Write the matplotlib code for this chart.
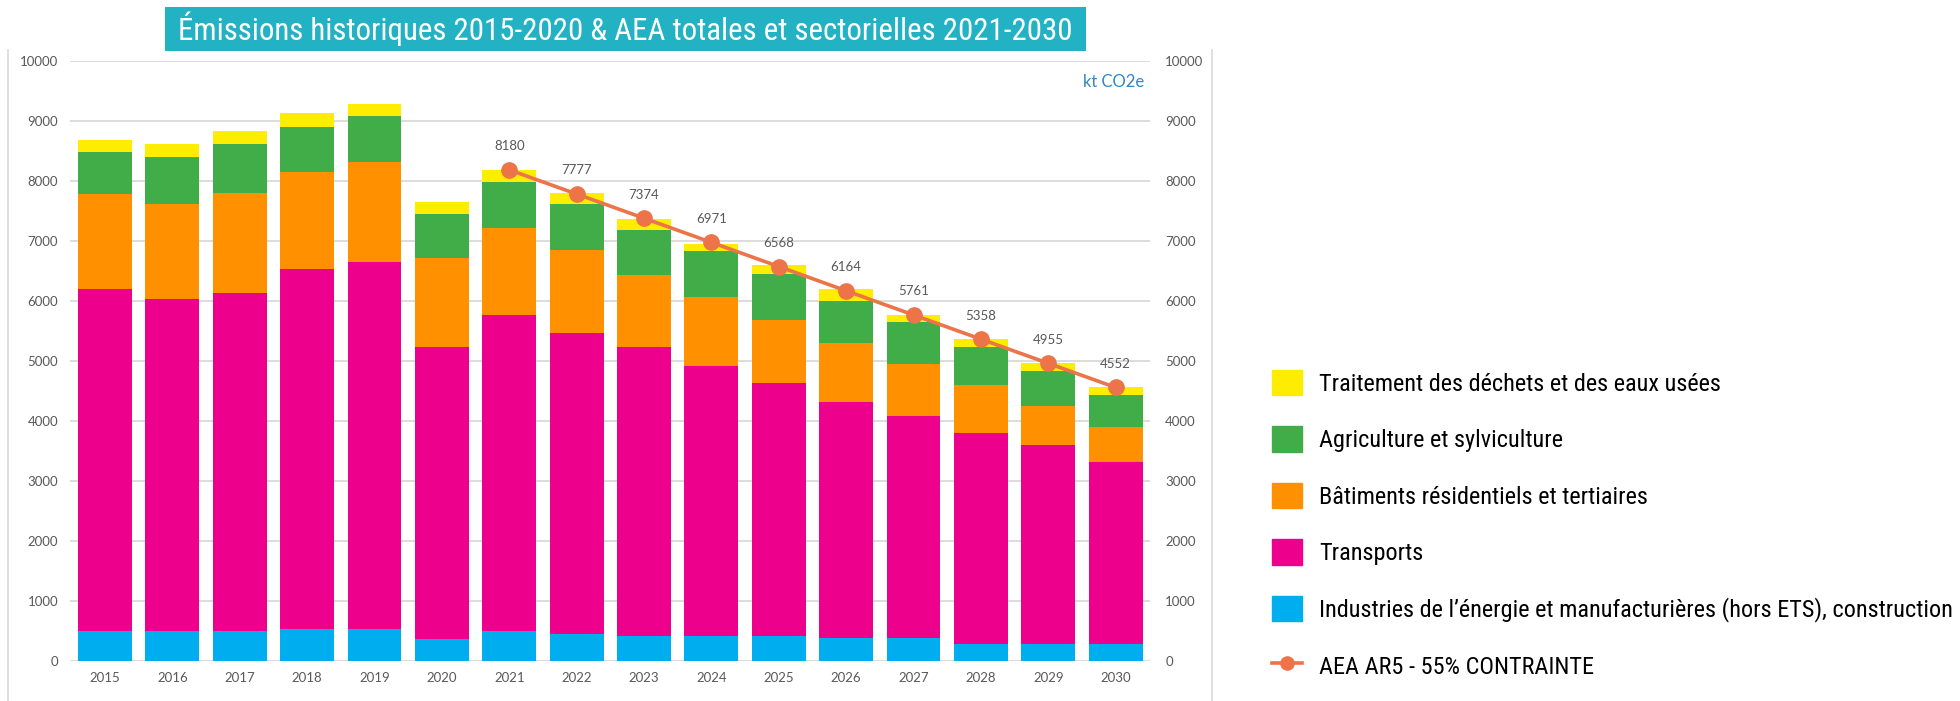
import matplotlib
matplotlib.use("Agg")
import matplotlib.pyplot as plt
from matplotlib import font_manager as fm
from matplotlib.patches import Patch, Rectangle
from matplotlib.lines import Line2D
import numpy as np

# years on the x axis
years = [str(y) for y in range(2015, 2031)]

# sector emissions, kt CO2e (bottom to top of each stack)
industrie = [500, 490, 490, 530, 530, 360, 490, 440, 405, 405, 410, 370, 370, 275, 275, 275]
transports = [5690, 5535, 5635, 5995, 6110, 4865, 5265, 5015, 4820, 4500, 4215, 3935, 3705, 3515, 3315, 3030]
batiments = [1590, 1585, 1665, 1615, 1665, 1480, 1450, 1385, 1200, 1150, 1050, 985, 865, 800, 660, 590]
agriculture = [690, 785, 815, 750, 765, 740, 765, 765, 750, 765, 770, 700, 700, 635, 570, 530]
dechets = [215, 220, 215, 235, 215, 200, 210, 190, 190, 125, 150, 200, 125, 135, 140, 130]

# AEA trajectory 2021-2030
aea_years = [str(y) for y in range(2021, 2031)]
aea_values = [8180, 7777, 7374, 6971, 6568, 6164, 5761, 5358, 4955, 4552]

labels = [
    "Industries de l\u2019énergie et manufacturières (hors ETS), construction",
    "Transports",
    "Bâtiments résidentiels et tertiaires",
    "Agriculture et sylviculture",
    "Traitement des déchets et des eaux usées",
]
colors = ["#00AEEF", "#EC008C", "#FF9100", "#41AD49", "#FFED00"]
line_color = "#EC7448"
grey_txt = "#595959"
grid_col = "#D9D9D9"

# pick a narrow font for the title / legend if one is installed
entries = fm.fontManager.ttflist
names = {f.name for f in entries}
narrow = None
for cand in ["Roboto Condensed", "Liberation Sans Narrow", "Open Sans Condensed", "Noto Sans Condensed"]:
    if cand in names:
        narrow = fm.FontProperties(family=cand)
        break
if narrow is None:
    cond = [f for f in entries if str(f.stretch) in ("condensed", "semi-condensed", "75", "87.5")]
    if cond:
        narrow = fm.FontProperties(family=cond[0].name, stretch=cond[0].stretch)
    else:
        narrow = fm.FontProperties(family="Roboto")

W, H = 1960, 701
fig = plt.figure(figsize=(W / 100, H / 100), dpi=100)
ax = fig.add_axes([70 / W, (H - 660.5) / H, (1150 - 70) / W, (660.5 - 60.7) / H])

x = np.arange(len(years))
bottom = np.zeros(len(years))
for vals, col in zip([industrie, transports, batiments, agriculture, dechets], colors):
    ax.bar(x, vals, width=0.8, bottom=bottom, color=col, zorder=2)
    bottom += np.array(vals)

xl = [years.index(y) for y in aea_years]
ax.plot(xl, aea_values, color=line_color, lw=2.6, marker="o", markersize=11, zorder=3)
for xi, v in zip(xl, aea_values):
    ax.annotate(str(v), (xi, v), xytext=(0, 17), textcoords="offset points",
                ha="center", va="center", fontsize=9.5, color=grey_txt, family="Lato")

ax.set_xlim(-0.52, len(years) - 0.49)
ax.set_ylim(0, 10000)
ax.set_yticks(range(0, 10001, 1000))
ax.set_xticks(x)
ax.set_xticklabels(years)
ax.grid(axis="y", color=grid_col, lw=1.3, zorder=0)
ax.set_axisbelow(True)
for s in ax.spines.values():
    s.set_visible(False)
ax.tick_params(length=0, labelsize=9.5, labelcolor=grey_txt)
ax.tick_params(axis="y", pad=8.6)
ax.tick_params(axis="x", pad=8.3)
for t in ax.get_xticklabels() + ax.get_yticklabels():
    t.set_family("Lato")

ax2 = ax.twinx()
ax2.set_ylim(0, 10000)
ax2.set_yticks(range(0, 10001, 1000))
for s in ax2.spines.values():
    s.set_visible(False)
ax2.tick_params(length=0, labelsize=9.5, labelcolor=grey_txt, pad=11)
for t in ax2.get_yticklabels():
    t.set_family("Lato")

ax.text(0.995, 0.965, "kt CO2e", transform=ax.transAxes, ha="right", va="center",
        fontsize=12, color="#2E86C9", family="Lato")

# chart frame lines
fig.add_artist(Line2D([8 / W, 8 / W], [0, (H - 50) / H], color=grid_col, lw=1.2))
fig.add_artist(Line2D([1212 / W, 1212 / W], [0, (H - 50) / H], color=grid_col, lw=1.2))

# title banner
fig.add_artist(Rectangle((165 / W, (H - 51) / H), (1086 - 165) / W, 44 / H,
                         transform=fig.transFigure, color="#23B2C4", lw=0))
title = fig.text(625 / W, (H - 29) / H,
                 "Émissions historiques 2015-2020 & AEA totales et sectorielles 2021-2030",
                 ha="center", va="center", color="white", fontproperties=narrow, fontsize=20)

# legend
handles = [Patch(color=c) for c in colors[::-1]]
handles.append(Line2D([], [], color=line_color, lw=2.6, marker="o", markersize=9.5))
leg_labels = labels[::-1] + ["AEA AR5 - 55% CONTRAINTE"]


def make_legend(size, gap=33):
    prop = narrow.copy()
    prop.set_size(size)
    px = size * 100 / 72
    return fig.legend(handles, leg_labels, loc="upper left",
                      bbox_to_anchor=(1272 / W, (H - 370) / H), frameon=False,
                      borderpad=0, borderaxespad=0, handlelength=30 / px,
                      handleheight=30 / px, handletextpad=17 / px,
                      labelspacing=gap / px, prop=prop)


# fit title width (~892 px) and the long legend label (~633 px)
fig.canvas.draw()
r = fig.canvas.get_renderer()
tw = title.get_window_extent(r).width
title.set_fontsize(20 * 892 / tw)

size = 17
leg = make_legend(size)
fig.canvas.draw()
lw_ = max(t.get_window_extent(r).width for t in leg.get_texts())
leg.remove()
size = size * 633 / lw_
leg = make_legend(size, gap=30.6)

fig.savefig("out.png", dpi=100)
